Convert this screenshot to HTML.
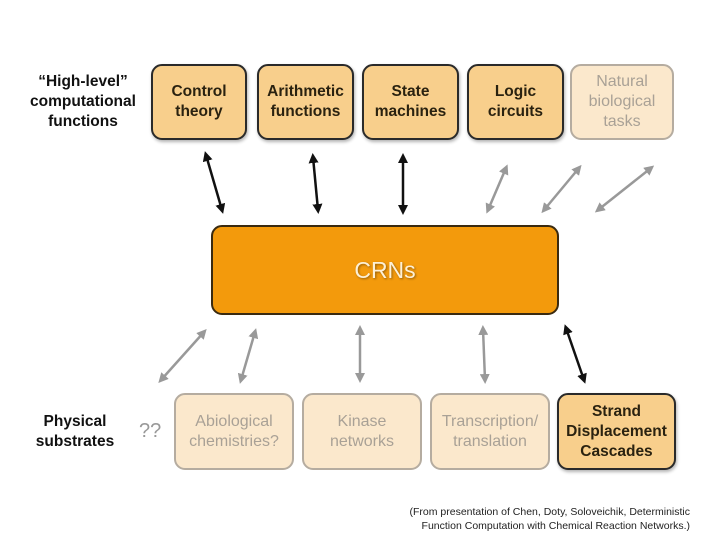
<!DOCTYPE html>
<html><head><style>
body{margin:0;width:720px;height:540px;background:#fff;position:relative;overflow:hidden;font-family:"Liberation Sans",sans-serif}
.b{position:absolute;box-sizing:border-box;border-radius:11px;display:flex;align-items:center;justify-content:center;text-align:center;font-weight:bold;font-size:15.5px;line-height:20px}
.d{background:#f8cf8c;border:2px solid #2a2a2a;color:#2a2210;box-shadow:1px 2px 3px rgba(0,0,0,.3)}
.f{background:#fbe8cc;border:2px solid #b5aca0;color:#a9a196;font-weight:normal;font-size:16px}
.t{position:absolute;font-weight:bold;font-size:15.5px;line-height:20px;text-align:center;color:#111}
</style></head><body>
<div class="t" style="left:24px;top:72px;width:118px">“High-level” computational functions</div>
<div class="b d" style="left:151px;top:64px;width:96px;height:76px">Control<br>theory</div>
<div class="b d" style="left:257px;top:64px;width:97px;height:76px">Arithmetic<br>functions</div>
<div class="b d" style="left:362px;top:64px;width:97px;height:76px">State<br>machines</div>
<div class="b d" style="left:467px;top:64px;width:97px;height:76px">Logic<br>circuits</div>
<div class="b f" style="left:570px;top:64px;width:104px;height:76px">Natural<br>biological<br>tasks</div>
<div class="b" style="left:211px;top:225px;width:348px;height:90px;background:#f39a0c;border:2px solid #3a2a10;color:#fdf0d6;font-weight:normal;font-size:23px;text-shadow:1px 1px 2px rgba(0,0,0,.4)">CRNs</div>
<div class="t" style="left:30px;top:412px;width:90px">Physical substrates</div>
<div style="position:absolute;left:139px;top:420px;font-size:20px;color:#999">??</div>
<div class="b f" style="left:174px;top:393px;width:120px;height:77px">Abiological<br>chemistries?</div>
<div class="b f" style="left:302px;top:393px;width:120px;height:77px">Kinase<br>networks</div>
<div class="b f" style="left:430px;top:393px;width:120px;height:77px">Transcription/<br>translation</div>
<div class="b d" style="left:557px;top:393px;width:119px;height:77px">Strand<br>Displacement<br>Cascades</div>
<div style="position:absolute;right:30px;top:505px;font-size:10.5px;line-height:14px;text-align:right;color:#222">(From presentation of Chen, Doty, Soloveichik, Deterministic<br>Function Computation with Chemical Reaction Networks.)</div>
<svg width="720" height="540" style="position:absolute;left:0;top:0">
<defs>
<marker id="k" markerWidth="10" markerHeight="10" refX="6" refY="5" orient="auto-start-reverse" markerUnits="userSpaceOnUse"><path d="M0,0L10,5L0,10z" fill="#111"/></marker>
<marker id="g" markerWidth="10" markerHeight="10" refX="6" refY="5" orient="auto-start-reverse" markerUnits="userSpaceOnUse"><path d="M0,0L10,5L0,10z" fill="#999"/></marker>
</defs>
<g stroke="#111" stroke-width="2.5" marker-start="url(#k)" marker-end="url(#k)">
<line x1="206" y1="155" x2="222" y2="210"/><line x1="313" y1="157" x2="318" y2="210"/><line x1="403" y1="157" x2="403" y2="211"/><line x1="566" y1="328" x2="584" y2="380"/>
</g>
<g stroke="#999" stroke-width="2.5" marker-start="url(#g)" marker-end="url(#g)">
<line x1="506" y1="168" x2="488" y2="210"/><line x1="579" y1="168" x2="544" y2="210"/><line x1="651" y1="168" x2="598" y2="210"/>
<line x1="204" y1="332" x2="161" y2="380"/><line x1="255" y1="332" x2="241" y2="380"/><line x1="360" y1="329" x2="360" y2="379"/><line x1="483" y1="329" x2="485" y2="380"/>
</g>
</svg>
</body></html>
